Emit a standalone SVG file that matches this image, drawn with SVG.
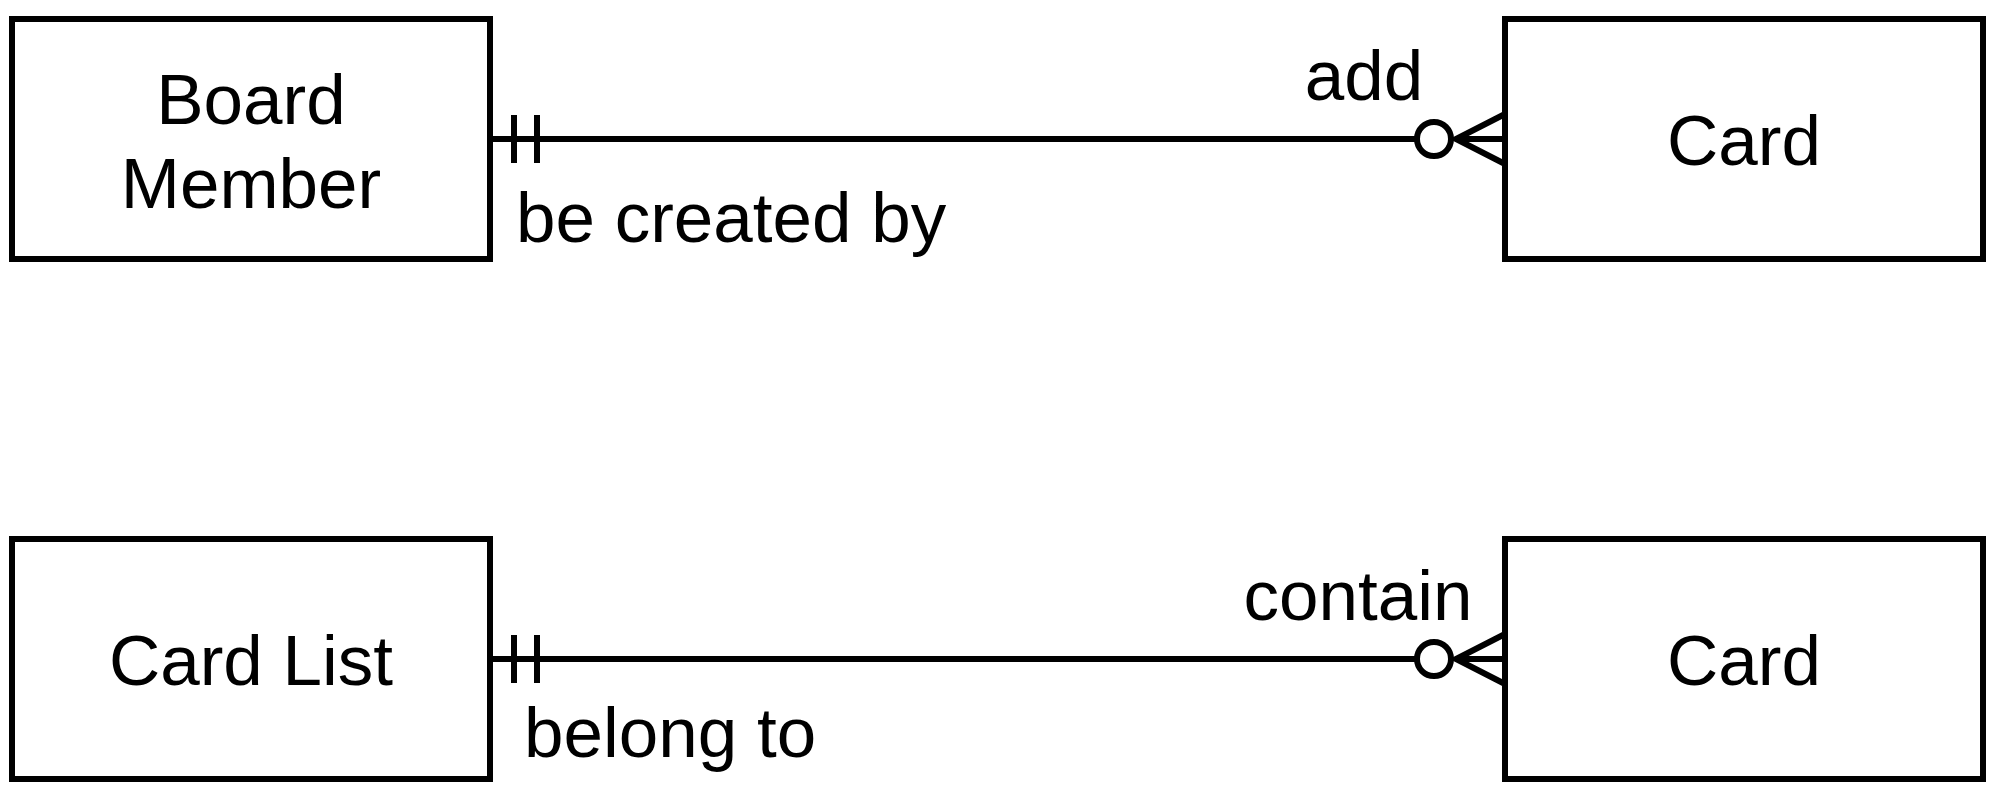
<svg xmlns="http://www.w3.org/2000/svg" width="1999" height="794" viewBox="0 0 1999 794">
  <style>
    .entity { fill: #ffffff; stroke: #000000; stroke-width: 6; }
    .label { font-family: "Liberation Sans", Arial, Helvetica, sans-serif; font-size: 71px; fill: #000000; }
    .mid { text-anchor: middle; }
    .edge { fill: none; stroke: #000000; stroke-width: 6; }
    .ring { fill: #ffffff; stroke: #000000; stroke-width: 6; }
  </style>
  <rect width="1999" height="794" fill="#ffffff"/>

  <!-- relationships: mandatory-one (double bar) to optional-many (ring + crow's foot) -->
  <g id="connectors">
    <g id="rel-member-card">
      <line class="edge" x1="490" y1="139" x2="1417" y2="139"/>
      <line class="edge" x1="514" y1="115" x2="514" y2="163"/>
      <line class="edge" x1="537" y1="115" x2="537" y2="163"/>
      <circle class="ring" cx="1434" cy="139" r="17"/>
      <path class="edge" d="M1505 114 L1456 139 L1505 164 M1456 139 L1505 139"/>
      <text class="label mid" x="1364" y="100">add</text>
      <text class="label" x="516" y="242">be created by</text>
    </g>
    <g id="rel-list-card">
      <line class="edge" x1="490" y1="659" x2="1417" y2="659"/>
      <line class="edge" x1="514" y1="635" x2="514" y2="683"/>
      <line class="edge" x1="537" y1="635" x2="537" y2="683"/>
      <circle class="ring" cx="1434" cy="659" r="17"/>
      <path class="edge" d="M1505 634 L1456 659 L1505 684 M1456 659 L1505 659"/>
      <text class="label mid" x="1358" y="620">contain</text>
      <text class="label" x="524" y="757">belong to</text>
    </g>
  </g>

  <g id="board-member">
    <rect class="entity" x="12" y="19" width="478" height="240"/>
    <text class="label mid" x="251" y="124">Board</text>
    <text class="label mid" x="251" y="208">Member</text>
  </g>

  <g id="card-top">
    <rect class="entity" x="1505" y="19" width="478" height="240"/>
    <text class="label mid" x="1744" y="165">Card</text>
  </g>

  <g id="card-list">
    <rect class="entity" x="12" y="539" width="478" height="240"/>
    <text class="label mid" x="251" y="685">Card List</text>
  </g>

  <g id="card-bottom">
    <rect class="entity" x="1505" y="539" width="478" height="240"/>
    <text class="label mid" x="1744" y="685">Card</text>
  </g>
</svg>
